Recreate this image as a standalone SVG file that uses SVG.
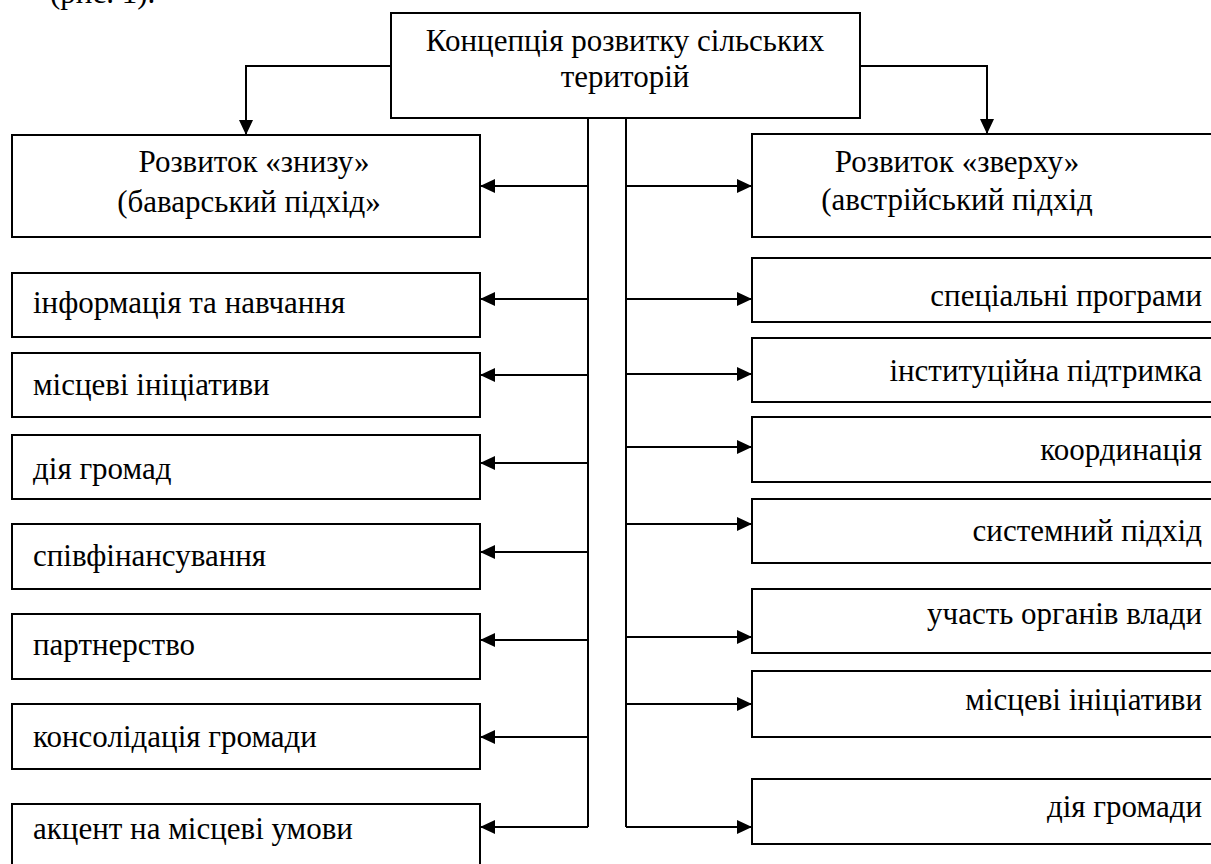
<svg xmlns="http://www.w3.org/2000/svg" width="1211" height="864" viewBox="0 0 1211 864">
<style>
  .box { fill: #fff; stroke: #000; stroke-width: 2; }
  .t { font-family: "Liberation Serif", "Times New Roman", serif; font-size: 31px; fill: #000; }
  .c { text-anchor: middle; }
  .r { text-anchor: end; }
  .ln { fill: none; stroke: #000; stroke-width: 2; }
</style>
<defs>
  <marker id="ah" markerWidth="15" markerHeight="14" refX="15" refY="7" orient="auto" markerUnits="userSpaceOnUse">
    <path d="M0,0 L15,7 L0,14 z" fill="#000"/>
  </marker>
</defs>
<rect width="1211" height="864" fill="#fff"/>
<text class="t" x="50" y="3">(рис. 1).</text>

<g id="connectors">
  <path class="ln" d="M391,66 H246 V135" marker-end="url(#ah)"/>
  <path class="ln" d="M860,66 H987 V134" marker-end="url(#ah)"/>
  <path class="ln" d="M588,118 V827"/>
  <path class="ln" d="M626,118 V827"/>
  <path class="ln" d="M588,186 H480" marker-end="url(#ah)"/>
  <path class="ln" d="M588,299 H480" marker-end="url(#ah)"/>
  <path class="ln" d="M588,375 H480" marker-end="url(#ah)"/>
  <path class="ln" d="M588,463 H480" marker-end="url(#ah)"/>
  <path class="ln" d="M588,552 H480" marker-end="url(#ah)"/>
  <path class="ln" d="M588,640 H480" marker-end="url(#ah)"/>
  <path class="ln" d="M588,737 H480" marker-end="url(#ah)"/>
  <path class="ln" d="M588,827 H480" marker-end="url(#ah)"/>
  <path class="ln" d="M626,186 H752" marker-end="url(#ah)"/>
  <path class="ln" d="M626,299 H752" marker-end="url(#ah)"/>
  <path class="ln" d="M626,374 H752" marker-end="url(#ah)"/>
  <path class="ln" d="M626,447 H752" marker-end="url(#ah)"/>
  <path class="ln" d="M626,524 H752" marker-end="url(#ah)"/>
  <path class="ln" d="M626,637 H752" marker-end="url(#ah)"/>
  <path class="ln" d="M626,704 H752" marker-end="url(#ah)"/>
  <path class="ln" d="M626,827 H752" marker-end="url(#ah)"/>
</g>

<g id="root">
  <rect class="box" x="391" y="13" width="469" height="105"/>
  <text class="t c" x="625" y="51">Концепція розвитку сільських</text>
  <text class="t c" x="625" y="87">територій</text>
</g>

<g id="left-main">
  <rect class="box" x="12" y="135" width="468" height="102"/>
  <text class="t c" x="254" y="172">Розвиток «знизу»</text>
  <text class="t c" x="249" y="212">(баварський підхід»</text>
</g>
<g id="left-1"><rect class="box" x="12" y="273" width="468" height="64"/><text class="t" x="33" y="313">інформація та навчання</text></g>
<g id="left-2"><rect class="box" x="12" y="353" width="468" height="64"/><text class="t" x="33" y="395">місцеві ініціативи</text></g>
<g id="left-3"><rect class="box" x="12" y="435" width="468" height="64"/><text class="t" x="33" y="479">дія громад</text></g>
<g id="left-4"><rect class="box" x="12" y="524" width="468" height="65"/><text class="t" x="33" y="566">співфінансування</text></g>
<g id="left-5"><rect class="box" x="12" y="614" width="468" height="65"/><text class="t" x="33" y="655">партнерство</text></g>
<g id="left-6"><rect class="box" x="12" y="704" width="468" height="65"/><text class="t" x="33" y="747">консолідація громади</text></g>
<g id="left-7"><rect class="box" x="12" y="804" width="468" height="80"/><text class="t" x="33" y="839">акцент на місцеві умови</text></g>

<g id="right-main">
  <rect class="box" x="752" y="134" width="470" height="103"/>
  <text class="t c" x="957" y="172">Розвиток «зверху»</text>
  <text class="t c" x="957" y="210">(австрійський підхід</text>
</g>
<g id="right-1"><rect class="box" x="752" y="258" width="470" height="64"/><text class="t r" x="1202" y="306">спеціальні програми</text></g>
<g id="right-2"><rect class="box" x="752" y="338" width="470" height="64"/><text class="t r" x="1202" y="381">інституційна підтримка</text></g>
<g id="right-3"><rect class="box" x="752" y="417" width="470" height="65"/><text class="t r" x="1202" y="460">координація</text></g>
<g id="right-4"><rect class="box" x="752" y="499" width="470" height="64"/><text class="t r" x="1202" y="541">системний підхід</text></g>
<g id="right-5"><rect class="box" x="752" y="589" width="470" height="64"/><text class="t r" x="1202" y="624">участь органів влади</text></g>
<g id="right-6"><rect class="box" x="752" y="671" width="470" height="66"/><text class="t r" x="1202" y="710">місцеві ініціативи</text></g>
<g id="right-7"><rect class="box" x="752" y="779" width="470" height="65"/><text class="t r" x="1202" y="817">дія громади</text></g>
</svg>
